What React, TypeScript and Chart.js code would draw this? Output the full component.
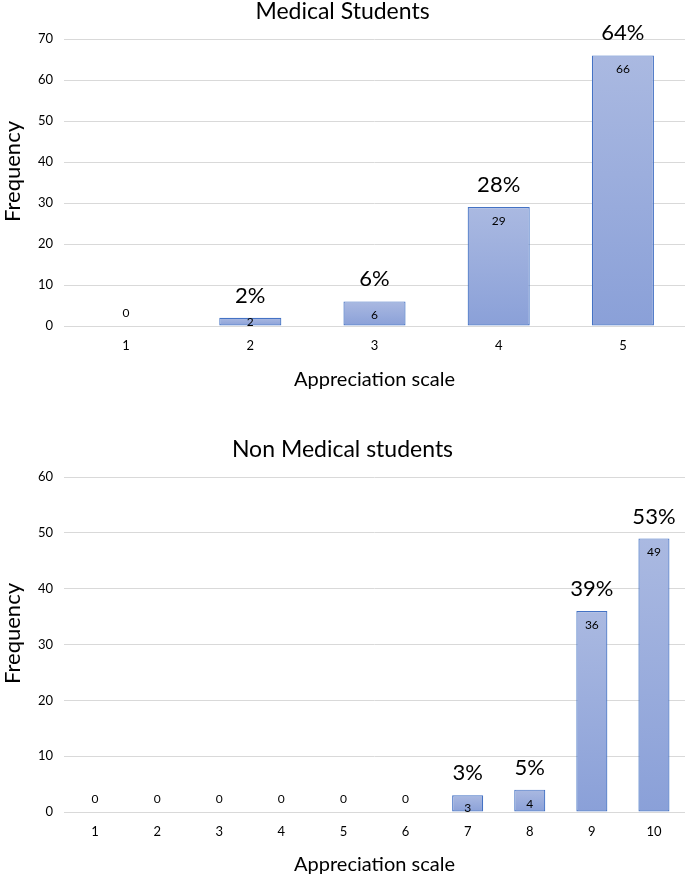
import React, { useEffect, useRef } from "react";
import { Chart, registerables } from "chart.js";

Chart.register(...registerables);

const FONT = "Lato, 'Open Sans', sans-serif";

// ---- Data ----
const medTitle = "Medical Students";
const medCategories = ["1", "2", "3", "4", "5"];
const medValues = [0, 2, 6, 29, 66];
const medPercents = ["", "2%", "6%", "28%", "64%"];
const medYMax = 70;

const nonMedTitle = "Non Medical students";
const nonMedCategories = ["1", "2", "3", "4", "5", "6", "7", "8", "9", "10"];
const nonMedValues = [0, 0, 0, 0, 0, 0, 3, 4, 36, 49];
const nonMedPercents = ["", "", "", "", "", "", "3%", "5%", "39%", "53%"];
const nonMedYMax = 60;

const yStep = 10;
const xAxisTitle = "Appreciation scale";
const yAxisTitle = "Frequency";

function makeLabelPlugin(percents: string[]) {
  return {
    id: "barLabels",
    afterDatasetsDraw(chart: any) {
      const ctx = chart.ctx;
      const meta = chart.getDatasetMeta(0);
      const data = chart.data.datasets[0].data as number[];
      const base = chart.scales.y.getPixelForValue(0);
      const area = chart.chartArea;
      ctx.save();
      // y axis title
      ctx.fillStyle = "#000";
      ctx.font = `22px ${FONT}`;
      ctx.textAlign = "center";
      ctx.textBaseline = "middle";
      ctx.translate(13, (area.top + area.bottom) / 2 - 11);
      ctx.rotate(-Math.PI / 2);
      ctx.fillText(yAxisTitle, 0, 0);
      ctx.restore();
      meta.data.forEach((bar: any, i: number) => {
        const v = data[i];
        const x = bar.x;
        const top = bar.y;
        ctx.save();
        ctx.fillStyle = "#000";
        ctx.textAlign = "center";
        ctx.textBaseline = "middle";
        ctx.font = `12px ${FONT}`;
        const vy = v === 0 ? base - 13 : Math.min(top + 14, base - 4);
        ctx.fillText(String(v), x, vy);
        const p = percents[i];
        if (p) {
          ctx.font = `22px ${FONT}`;
          ctx.fillText(p, x, top - 22);
        }
        ctx.restore();
      });
    },
  };
}

function BarChart(props: {
  title: string;
  categories: string[];
  values: number[];
  percents: string[];
  yMax: number;
  width: number;
  height: number;
  xHeight: number;
}) {
  const ref = useRef<HTMLCanvasElement | null>(null);
  useEffect(() => {
    if (!ref.current) return;
    const chart = new Chart(ref.current, {
      type: "bar",
      data: {
        labels: props.categories,
        datasets: [
          {
            data: props.values,
            backgroundColor: (c: any) => {
              const chart = c.chart;
              const area = chart.chartArea;
              if (!area || c.type !== "data") return "#9aacdc";
              const y = chart.scales.y;
              const v = c.raw as number;
              const t = y.getPixelForValue(v);
              const b = y.getPixelForValue(0);
              if (!isFinite(t) || !isFinite(b) || t === b) return "#9aacdc";
              const g = chart.ctx.createLinearGradient(0, t, 0, b);
              g.addColorStop(0, "#aab9e1");
              g.addColorStop(1, "#8aa0d8");
              return g;
            },
            borderColor: "#4472c4",
            borderWidth: 1.2,
            borderSkipped: false,
            categoryPercentage: 1,
            barPercentage: 0.5,
          },
        ],
      },
      options: {
        responsive: false,
        animation: false,
        layout: { padding: { left: 0, right: 0, top: 0, bottom: 0 } },
        plugins: {
          legend: { display: false },
          tooltip: { enabled: false },
          title: {
            display: true,
            text: props.title,
            color: "#000",
            font: { family: FONT, size: 23, weight: "normal" },
            padding: { top: -2, bottom: 13.4 },
          },
        },
        scales: {
          x: {
            grid: { display: false, drawTicks: false },
            border: { display: true, color: "#d9d9d9", width: 1 },
            ticks: {
              color: "#000",
              font: { family: FONT, size: 13 },
              padding: 12,
              maxRotation: 0,
            },
            title: {
              display: true,
              text: xAxisTitle,
              color: "#000",
              font: { family: FONT, size: 20 },
              padding: { top: 0, bottom: 0 },
            },
            afterFit: (s: any) => {
              s.height = props.xHeight;
            },
          },
          y: {
            min: 0,
            max: props.yMax,
            ticks: {
              stepSize: yStep,
              color: "#000",
              font: { family: FONT, size: 13 },
              padding: 11,
            },
            grid: { color: "#d9d9d9", drawTicks: false, lineWidth: 1 },
            border: { display: false },
            title: { display: false },
            afterFit: (s: any) => {
              s.width = 64;
            },
          },
        },
      },
      plugins: [makeLabelPlugin(props.percents)],
    } as any);
    return () => chart.destroy();
  }, []);
  return (
    <canvas
      ref={ref}
      width={props.width}
      height={props.height}
      style={{ display: "block", width: props.width, height: props.height }}
    />
  );
}

export default function App() {
  return (
    <div
      style={{
        position: "absolute",
        left: 0,
        top: 0,
        width: 685,
        height: 875,
        overflow: "hidden",
        background: "#fff",
      }}
    >
      <div style={{ position: "absolute", left: 0, top: 0 }}>
        <BarChart
          title={medTitle}
          categories={medCategories}
          values={medValues}
          percents={medPercents}
          yMax={medYMax}
          width={685}
          height={392}
          xHeight={66}
        />
      </div>
      <div style={{ position: "absolute", left: 0, top: 438 }}>
        <BarChart
          title={nonMedTitle}
          categories={nonMedCategories}
          values={nonMedValues}
          percents={nonMedPercents}
          yMax={nonMedYMax}
          width={685}
          height={439}
          xHeight={65}
        />
      </div>
    </div>
  );
}
